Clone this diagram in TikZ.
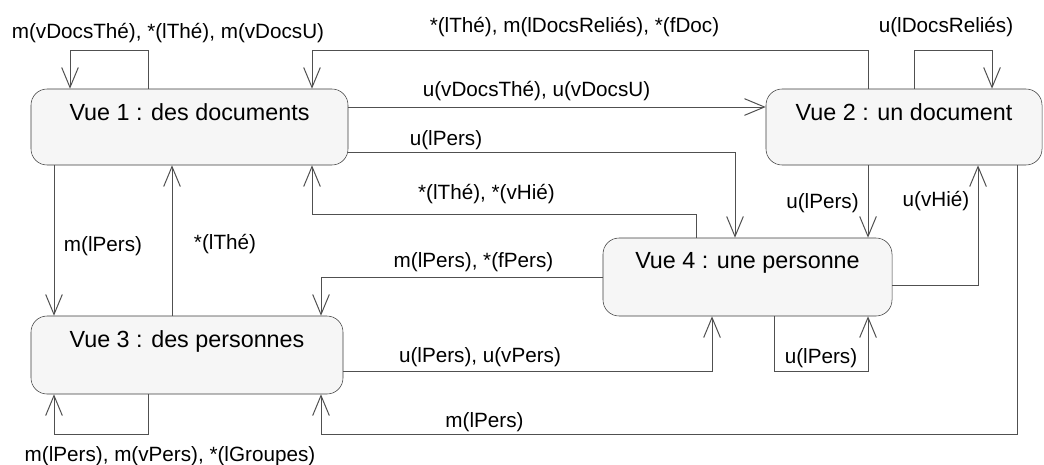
\documentclass[tikz,border=0pt]{standalone}
\usepackage{fontspec}
\setmainfont{Liberation Sans}
\usetikzlibrary{arrows.meta}
\definecolor{boxline}{HTML}{3C3C3C}
\definecolor{boxfill}{HTML}{F6F6F6}
\definecolor{linecol}{HTML}{505050}
\tikzset{
	vue/.style 2 args={draw=boxline,fill=boxfill,rounded corners=12pt,inner sep=0pt,minimum width=#1,label={[titre]north:{#2}}},
	titre/.style={anchor=north,inner sep=0pt,yshift=-11pt,font=\fontsize{17.5}{21}\selectfont},
	lien/.style={draw=linecol,line width=0.75pt,-{Straight Barb[length=15pt,width=12.5pt]}},
	etiq/.style={anchor=base,inner sep=0pt,font=\fontsize{15.5}{18}\selectfont}
}

\begin{document}
\begin{tikzpicture}[x=0.75pt,y=-0.75pt]
						\path[use as bounding box] (0,0) rectangle (1044,464);
						
						\node [vue={237.75pt}{Vue 1 : des documents},minimum height=57pt] (v1) at (189.5,127) {};
						\node [vue={207pt}{Vue 2 : un document},minimum height=57pt] (v2) at (904,127) {};
						\node [vue={234pt}{Vue 3 : des personnes},minimum height=58.5pt] (v3) at (187,355) {};
						\node [vue={216.75pt}{Vue 4 : une personne},minimum height=58.5pt] (v4) at (747.5,277) {};
						
						\draw [lien] (v1.north -| 148,0) |- (70,50) -- (v1.north -| 70,0);
						\draw [lien] (v2.north -| 868,0) |- (312,50) -- (v1.north -| 312,0);
						\draw [lien] (v2.north -| 914,0) |- (992,50) -- (v2.north -| 992,0);
						\draw [lien] (v1.east |- 0,107) -- (v2.west |- 0,107);
						\draw [lien] (v1.east |- 0,152) -| (v4.north -| 735,0);
						\draw [lien] (v4.north -| 696,0) |- (312,214) -- (v1.south -| 312,0);
						\draw [lien] (v2.south -| 868,0) -- (v4.north -| 868,0);
						\draw [lien] (v4.east |- 0,285) -| (v2.south -| 978,0);
						\draw [lien] (v2.south -| 1017,0) |- (321,434) -- (v3.south -| 321,0);
						\draw [lien] (v4.south -| 774,0) |- (868,371) -- (v4.south -| 868,0);
						\draw [lien] (v3.east |- 0,371) -| (v4.south -| 712,0);
						\draw [lien] (v4.west |- 0,277) -| (v3.north -| 321,0);
						\draw [lien] (v1.south -| 54,0) -- (v3.north -| 54,0);
						\draw [lien] (v3.north -| 172,0) -- (v1.south -| 172,0);
						\draw [lien] (v3.south -| 148,0) |- (54,434) -- (v3.south -| 54,0);
						
						\node [etiq] (e1) at (168,38) {m(vDocsThé), *(lThé), m(vDocsU)};
						\node [etiq] (e2) at (574.5,32) {*(lThé), m(lDocsReliés), *(fDoc)};
						\node [etiq] (e3) at (946,32) {u(lDocsReliés)};
						\node [etiq] (e4) at (536.5,96) {u(vDocsThé), u(vDocsU)};
						\node [etiq] (e5) at (446,145) {u(lPers)};
						\node [etiq] (e6) at (486.5,199) {*(lThé), *(vHié)};
						\node [etiq] (e7) at (822.5,208) {u(lPers)};
						\node [etiq] (e8) at (936,206) {u(vHié)};
						\node [etiq] (e9) at (103,251) {m(lPers)};
						\node [etiq] (e10) at (225,249) {*(lThé)};
						\node [etiq] (e11) at (473.5,267) {m(lPers), *(fPers)};
						\node [etiq] (e12) at (480,362) {u(lPers), u(vPers)};
						\node [etiq] (e13) at (821,363) {u(lPers)};
						\node [etiq] (e14) at (484.5,427) {m(lPers)};
						\node [etiq] (e15) at (170,461) {m(lPers), m(vPers), *(lGroupes)};
					\end{tikzpicture}
\end{document}
